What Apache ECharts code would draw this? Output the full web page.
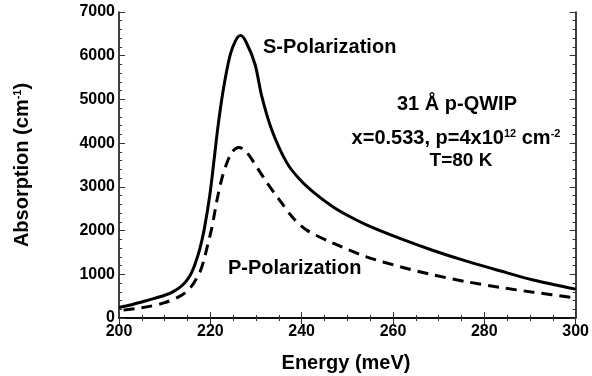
<!DOCTYPE html>
<html>
<head>
<meta charset="utf-8">
<script src="https://cdn.jsdelivr.net/npm/echarts@6/dist/echarts.min.js"></script>
<style>
  html, body { margin: 0; padding: 0; background: #fff; }
  #chart { width: 592px; height: 376px; }
</style>
</head>
<body>
<div id="chart"></div>
<script>
// Absorption spectra of a 31 Å p-QWIP for two polarizations
const sEnergy = [200, 203, 206.4, 210, 212, 214, 215.5, 216.6, 217.7, 218.7, 219.9, 220.8, 221.7, 222.8, 224.3, 225.5, 226.6, 227.8, 229.8, 231.2, 233.4, 236.7, 239.5, 242.9, 246.9, 250, 254.2, 261.5, 268.8, 276.1, 283.4, 290.7, 300];
const sAbs    = [240, 310, 410, 520, 610, 760, 960, 1220, 1580, 2050, 2820, 3600, 4400, 5200, 6000, 6340, 6460, 6320, 5800, 5100, 4320, 3560, 3180, 2850, 2540, 2350, 2130, 1820, 1545, 1300, 1080, 870, 660];

const pEnergy = [201, 203.5, 206.4, 210, 213.7, 215.9, 217.7, 218.5, 219.3, 220.3, 221.5, 222.5, 223.6, 224.8, 226.2, 227.3, 228.5, 230.5, 232.5, 235, 238.2, 241.1, 246.9, 254.2, 261.5, 268.8, 276.1, 283.4, 290.7, 300];
const pAbs    = [180, 215, 260, 350, 520, 730, 1050, 1290, 1620, 2050, 2720, 3180, 3540, 3800, 3900, 3860, 3720, 3400, 3080, 2720, 2280, 2010, 1710, 1400, 1175, 985, 830, 700, 590, 460];

const xTicks = { min: 200, max: 300, interval: 20 };
const yTicks = { min: 0, max: 7000, interval: 1000 };

const FONT = '"Liberation Sans", Arial, sans-serif';

function pairs(xs, ys) { return xs.map((x, i) => [x, ys[i]]); }

const axisLine = { show: true, lineStyle: { color: '#000', width: 1.5 } };
const tickStyle = { color: '#333', width: 1 };
const labelStyle = { color: '#000', fontFamily: FONT, fontWeight: 'bold', fontSize: 16 };
const supStyle = { fill: '#000', fontFamily: FONT, fontWeight: 'bold', fontSize: 11, verticalAlign: 'top', padding: [0, 0, 9, 0] };
const mainStyle = { fill: '#000', fontFamily: FONT, fontWeight: 'bold', fontSize: 20 };

function mirrorAxis(extra) {
  return Object.assign({
    type: 'value', axisLine,
    axisTick: { show: true, inside: true, length: 6, lineStyle: tickStyle },
    minorTick: { show: true, length: 3, lineStyle: tickStyle },
    splitLine: { show: false },
    axisLabel: { show: false }
  }, extra);
}

const chart = echarts.init(document.getElementById('chart'), null, { renderer: 'canvas' });

chart.setOption({
  animation: false,
  backgroundColor: '#fff',
  grid: { left: 119, top: 12, width: 457, height: 306, containLabel: false },
  xAxis: [
    mirrorAxis({
      min: xTicks.min, max: xTicks.max, interval: xTicks.interval, position: 'bottom',
      minorTick: { show: true, splitNumber: 4, length: 3, lineStyle: tickStyle },
      axisLabel: Object.assign({ show: true, margin: 6, formatter: v => String(v) }, labelStyle)
    }),
    mirrorAxis({
      min: xTicks.min, max: xTicks.max, interval: xTicks.interval, position: 'top',
      minorTick: { show: true, splitNumber: 4, length: 3, lineStyle: tickStyle }
    })
  ],
  yAxis: [
    mirrorAxis({
      min: yTicks.min, max: yTicks.max, interval: yTicks.interval, position: 'left',
      minorTick: { show: true, splitNumber: 5, length: 3, lineStyle: tickStyle },
      axisLabel: Object.assign({ show: true, margin: 4, formatter: v => String(v) }, labelStyle)
    }),
    mirrorAxis({
      min: yTicks.min, max: yTicks.max, interval: yTicks.interval, position: 'right',
      minorTick: { show: true, splitNumber: 5, length: 3, lineStyle: tickStyle }
    })
  ],
  series: [
    {
      name: 'S-Polarization', type: 'line', xAxisIndex: 0, yAxisIndex: 0,
      data: pairs(sEnergy, sAbs), smooth: 0.3, showSymbol: false,
      lineStyle: { color: '#000', width: 3 }
    },
    {
      name: 'P-Polarization', type: 'line', xAxisIndex: 0, yAxisIndex: 0,
      data: pairs(pEnergy, pAbs), smooth: 0.3, showSymbol: false,
      lineStyle: { color: '#000', width: 3, type: [11, 7] }
    }
  ],
  graphic: [
    // axis titles
    {
      type: 'text', x: 22, y: 165, rotation: Math.PI / 2,
      style: {
        text: '{t|Absorption (cm}{s|-1}{t|)}', align: 'center', verticalAlign: 'middle',
        rich: { t: mainStyle, s: supStyle }
      }
    },
    {
      type: 'text', x: 346, y: 363,
      style: { text: 'Energy (meV)', align: 'center', verticalAlign: 'middle', fill: '#000', font: 'bold 20px ' + FONT }
    },
    // curve labels
    {
      type: 'text', x: 263, y: 47,
      style: { text: 'S-Polarization', align: 'left', verticalAlign: 'middle', fill: '#000', font: 'bold 20px ' + FONT }
    },
    {
      type: 'text', x: 228, y: 268,
      style: { text: 'P-Polarization', align: 'left', verticalAlign: 'middle', fill: '#000', font: 'bold 20px ' + FONT }
    },
    // sample description
    {
      type: 'text', x: 457, y: 104,
      style: { text: '31 Å p-QWIP', align: 'center', verticalAlign: 'middle', fill: '#000', font: 'bold 20px ' + FONT }
    },
    {
      type: 'text', x: 456, y: 138,
      style: {
        text: '{t|x=0.533, p=4x10}{s|12}{t| cm}{s|-2}', align: 'center', verticalAlign: 'middle',
        rich: { t: mainStyle, s: supStyle }
      }
    },
    {
      type: 'text', x: 461, y: 161,
      style: { text: 'T=80 K', align: 'center', verticalAlign: 'middle', fill: '#000', font: 'bold 19px ' + FONT }
    }
  ]
});
</script>
</body>
</html>
